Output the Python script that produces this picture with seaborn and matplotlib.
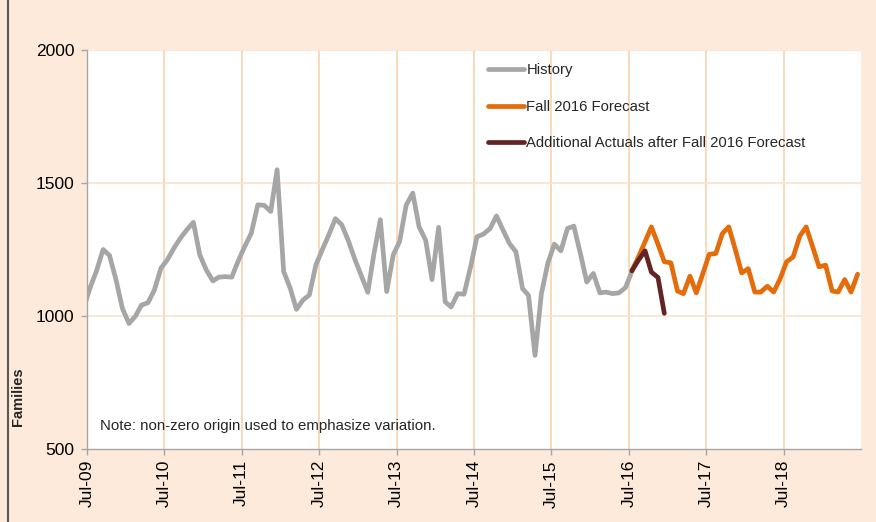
import pandas as pd
import numpy as np
import matplotlib
matplotlib.use("Agg")
import matplotlib.pyplot as plt
import matplotlib.dates as mdates
import seaborn as sns

# monthly values, mid-month points (history begins Jun-09, clipped at the axis edge)
history = [1030, 1105, 1170, 1250, 1228, 1136, 1029, 972, 1000, 1041, 1050, 1098,
           1180, 1211, 1255, 1293, 1324, 1352, 1230, 1173, 1132, 1146, 1148, 1146,
           1208, 1261, 1311, 1418, 1416, 1393, 1550, 1167, 1104, 1025, 1060, 1079,
           1192, 1249, 1305, 1366, 1343, 1283, 1215, 1152, 1089, 1230, 1362, 1092,
           1230, 1280, 1417, 1462, 1335, 1285, 1137, 1333, 1053, 1034, 1084, 1082,
           1185, 1298, 1308, 1329, 1376, 1323, 1273, 1241, 1103, 1078, 852, 1084,
           1200, 1270, 1245, 1329, 1338, 1235, 1128, 1160, 1087, 1090, 1084, 1087,
           1107, 1168]
forecast = [1170, 1222, 1279, 1335, 1270, 1204, 1200, 1094, 1084, 1150, 1087, 1160,
            1232, 1235, 1310, 1335, 1250, 1162, 1178, 1090, 1090, 1112, 1090, 1141,
            1204, 1222, 1300, 1335, 1260, 1185, 1191, 1094, 1090, 1137, 1090, 1157]
actuals = [1170, 1210, 1245, 1165, 1145, 1010]

history_start = "2009-06-01"
forecast_start = "2016-07-01"
series_names = ["History", "Fall 2016 Forecast", "Additional Actuals after Fall 2016 Forecast"]
year_ticks = pd.date_range("2009-07-01", "2018-07-01", freq="12MS")
y_ticks = [500, 1000, 1500, 2000]

palette = {"History": "#A6A6A6",
           "Fall 2016 Forecast": "#E46C0A",
           "Additional Actuals after Fall 2016 Forecast": "#632523"}


def make_frame(values, start, name):
    dates = pd.date_range(start, periods=len(values), freq="MS") + pd.Timedelta(days=14)
    return pd.DataFrame({"month": dates, "Families": values, "series": name})


df = pd.concat([make_frame(history, history_start, series_names[0]),
                make_frame(forecast, forecast_start, series_names[1]),
                make_frame(actuals, forecast_start, series_names[2])], ignore_index=True)

sns.set_theme(style="white")
plt.rcParams["font.family"] = ["Liberation Sans", "DejaVu Sans"]

fig = plt.figure(figsize=(8.76, 5.22), dpi=100, facecolor="#FDEADA")
ax = fig.add_axes([87 / 876, 73 / 522, 774 / 876, 399 / 522])
ax.set_facecolor("white")

g = sns.lineplot(data=df, x="month", y="Families", hue="series", hue_order=series_names,
                 palette=palette, linewidth=3.4, ax=ax, sort=False)

ax.set_xlim(pd.Timestamp("2009-07-01"), pd.Timestamp("2019-07-01"))
ax.set_ylim(500, 2000)
ax.set_yticks(y_ticks)
ax.set_xticks(year_ticks)
ax.xaxis.set_major_formatter(mdates.DateFormatter("%b-%y"))
plt.setp(ax.get_xticklabels(), rotation=90)

ax.grid(False)
for t in year_ticks[1:]:
    ax.axvline(t, color="#FBD3AE", lw=1.2, zorder=0)
for v in y_ticks[1:]:
    ax.axhline(v, color="#FCE2CC", lw=1.2, zorder=0)

for side in ["top", "right"]:
    ax.spines[side].set_visible(False)
for side in ["left", "bottom"]:
    ax.spines[side].set_color("#A6A6A6")
    ax.spines[side].set_linewidth(1)

ax.tick_params(axis="both", which="major", labelsize=12.5, colors="#A6A6A6",
               labelcolor="black", length=4, width=1, direction="out")
ax.tick_params(axis="x", pad=4)
ax.tick_params(axis="y", pad=5, left=True)
ax.tick_params(axis="x", bottom=True)

ax.set_xlabel("")
ax.set_ylabel("Families", fontsize=10.5, fontweight="bold")
ax.yaxis.set_label_coords(-0.08, 0.13)

handles, labels = ax.get_legend_handles_labels()
leg = ax.legend(handles, labels, loc="upper left", bbox_to_anchor=(0.508, 0.985),
                frameon=False, fontsize=10.7, handlelength=2.45, handletextpad=0.15,
                labelspacing=1.5, borderpad=0)
for h in leg.get_lines():
    h.set_linewidth(3.4)

ax.text(0.017, 0.058, "Note: non-zero origin used to emphasize variation.",
        transform=ax.transAxes, fontsize=10.8, va="center", ha="left")

fig.add_artist(plt.Line2D([7.5 / 876, 7.5 / 876], [0, 1], transform=fig.transFigure,
                          color="#595959", lw=1.5))

fig.savefig("out.png", dpi=100, facecolor=fig.get_facecolor())
